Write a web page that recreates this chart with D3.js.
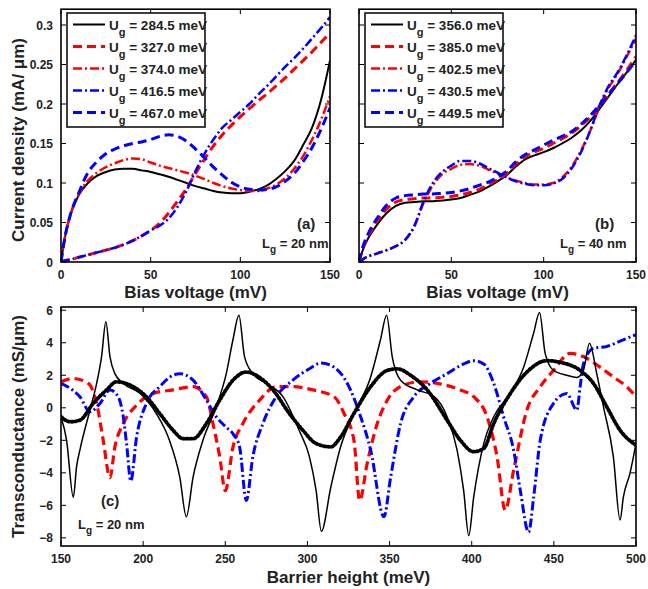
<!DOCTYPE html>
<html>
<head>
<meta charset="utf-8">
<script src="https://cdn.jsdelivr.net/npm/d3@7"></script>
<style>
body { margin: 0; background: #fff; }
text { font-family: "Liberation Sans", Arial, sans-serif; font-weight: bold; fill: #222; }
</style>
</head>
<body>
<div id="content"></div>
<script>
// bias voltage grid (mV) used by panels (a) and (b)
var biasV = [0,2.5,5,10,15,20,25,30,35,40,45,50,55,60,65,70,75,80,85,90,95,100,105,110,115,120,125,130,135,140,145,150]

// panel (a), Lg = 20 nm, current density (mA/um)
var a_labels = ['284.5', '327.0', '374.0', '416.5', '467.0']
var a_2845 = [0,0.035,0.058,0.085,0.1,0.109,0.114,0.117,0.118,0.118,0.116,0.114,0.111,0.108,0.104,0.1,0.096,0.093,0.09,0.088,0.087,0.087,0.089,0.092,0.097,0.105,0.115,0.128,0.148,0.17,0.205,0.255]
var a_3270 = [0,0.002,0.003,0.006,0.009,0.012,0.015,0.018,0.022,0.027,0.033,0.04,0.049,0.062,0.077,0.093,0.112,0.13,0.147,0.161,0.173,0.184,0.194,0.204,0.213,0.223,0.233,0.244,0.255,0.266,0.278,0.29]
var a_3740 = [0,0.035,0.058,0.086,0.103,0.113,0.12,0.125,0.129,0.131,0.13,0.126,0.122,0.119,0.116,0.113,0.109,0.105,0.1,0.096,0.093,0.091,0.09,0.09,0.093,0.098,0.106,0.118,0.134,0.155,0.18,0.21]
var a_4165 = [0,0.002,0.003,0.006,0.009,0.012,0.015,0.018,0.022,0.027,0.033,0.04,0.046,0.055,0.07,0.09,0.115,0.137,0.155,0.17,0.18,0.19,0.2,0.212,0.223,0.235,0.247,0.258,0.27,0.283,0.296,0.31]
var a_4670 = [0,0.035,0.058,0.088,0.113,0.127,0.137,0.143,0.147,0.15,0.152,0.155,0.159,0.161,0.159,0.153,0.143,0.132,0.12,0.11,0.101,0.095,0.092,0.091,0.092,0.095,0.102,0.112,0.127,0.145,0.168,0.195]

// panel (b), Lg = 40 nm
var b_labels = ['356.0', '385.0', '402.5', '430.5', '449.5']
var b_3560 = [0,0.018,0.03,0.048,0.062,0.071,0.075,0.076,0.077,0.077,0.078,0.079,0.081,0.085,0.089,0.095,0.102,0.11,0.121,0.13,0.135,0.139,0.144,0.15,0.157,0.166,0.178,0.193,0.209,0.225,0.24,0.256]
var b_3850 = [0,0.02,0.033,0.052,0.067,0.076,0.079,0.08,0.081,0.081,0.082,0.083,0.085,0.088,0.092,0.098,0.104,0.112,0.124,0.133,0.139,0.144,0.15,0.156,0.163,0.172,0.183,0.196,0.212,0.227,0.243,0.26]
var b_4025 = [0,0.004,0.007,0.011,0.015,0.02,0.028,0.045,0.075,0.097,0.111,0.118,0.123,0.124,0.122,0.117,0.112,0.107,0.103,0.1,0.098,0.098,0.1,0.107,0.12,0.14,0.165,0.195,0.22,0.238,0.26,0.283]
var b_4305 = [0,0.004,0.007,0.011,0.015,0.02,0.028,0.046,0.077,0.1,0.114,0.122,0.128,0.128,0.125,0.119,0.113,0.107,0.102,0.099,0.097,0.097,0.099,0.105,0.118,0.138,0.165,0.197,0.222,0.24,0.262,0.287]
var b_4495 = [0,0.022,0.036,0.056,0.072,0.081,0.084,0.085,0.086,0.086,0.087,0.088,0.09,0.093,0.097,0.101,0.107,0.115,0.127,0.136,0.142,0.148,0.154,0.159,0.165,0.174,0.185,0.198,0.212,0.226,0.24,0.255]

// panel (c), transconductance (mS/um) vs barrier height (meV)
var c_theoryX = [150,153.4,157.5,159.5,161.5,167.6,171.7,174.7,177.3,179.8,182.8,187.9,198,208,216,222.3,226.3,230.4,236.4,244.5,250.6,254.7,258.3,261.7,266.8,274.9,285,295,301.2,305.3,308.5,314.2,320.2,328.3,338.5,344.5,348.2,351.6,356.7,366.8,377,385,391.1,395.1,398.2,401.2,407.3,413.4,423.5,431.6,437.7,441.3,444.7,449.8,457.9,464,468,471.7,476.1,480.2,486.2,490.3,492.3,496.4,500]
var c_theoryY = [-0.55,-2,-5.5,-3.6,-2.6,-0.15,1.5,3.15,5.3,3.15,2.1,1.5,0.9,-0.35,-2,-4.26,-6.7,-4.26,-2,0.06,2.1,4.2,5.7,3.15,2.1,1.5,0.7,-1.4,-3,-5.1,-7.6,-4.9,-2.4,-0.35,1.9,4.2,5.7,3.15,1.7,1.1,0.7,-0.55,-2.6,-5.1,-7.86,-5.5,-2.2,-0.55,0.9,2.5,4.6,5.86,3.35,2.3,2,1.87,2.3,3.97,2.1,0.06,-3,-6.9,-5.5,-4,-2.2]
var c_measX = [150,155.5,161.5,169.6,177.7,183.8,193.9,202,210.1,218.2,224.3,230.4,238.5,246.6,254.7,262.8,268.8,279,289,297.2,305.3,314.2,320.2,328.3,338.5,348.6,354.7,362.8,372.9,385,393.1,401.2,407.3,413.4,423.5,433.6,445.7,453.8,466,474.1,482.2,490.3,500]
var c_measY = [-0.55,-0.86,-0.76,0.27,1.1,1.6,1.3,0.68,-0.35,-1.38,-1.9,-1.9,-0.97,0.47,1.7,2.2,2.0,1.1,-0.35,-1.38,-2.2,-2.4,-1.8,-0.35,1.3,2.3,2.4,2.0,1.1,-0.76,-2,-2.7,-2.5,-0.97,0.88,2.2,2.9,2.8,2.3,1.5,0.06,-1.38,-2.3]
var c_redX = [150,157.5,166.6,171.7,175.7,179.8,182.8,187.9,196,206.1,218.2,230.4,238.5,242.5,246.6,250,254.7,260.7,270.9,281,291.1,303.2,316.2,322.3,328.3,331.8,336.4,342.5,348.6,358.7,368.8,379,393.1,401.2,409.3,415.4,420.4,425.5,433.6,441.7,449.8,459.9,468,478.1,486.2,494.3,500]
var c_redY = [1.6,1.8,1.5,0.27,-2,-4.3,-2.4,-0.97,0.16,0.88,1.1,1.3,0.68,-0.97,-3,-5.1,-2.4,-0.97,0.47,1.3,1.3,1.1,0.68,-0.35,-2.0,-5.7,-3.4,-0.97,0.47,1.4,1.6,1.5,1.1,0.68,-0.55,-3,-6.3,-3.85,-0.14,1.3,2.3,3.35,3.15,2.5,1.9,1.3,0.68]
var c_blueX = [150,155.5,161.5,167.6,173.7,179.8,184.8,187.9,189.9,192.5,196,202,210.1,218.2,222.3,230.4,238.5,244.5,250.6,254.7,258.7,262.8,266.8,272.9,281,291.1,301.2,308.3,316.2,324.3,332.4,338.5,346.6,350.6,356.7,364.8,374.9,385,395.1,401.2,407.3,413.4,419.4,425.5,429.6,434.6,437.7,441.7,449.8,457.9,464,466,468,474.1,482.2,490.3,500]
var c_blueY = [1.5,1.2,0.68,-0.25,0.27,1.1,0.68,-0.55,-2.2,-4.5,-1.8,0.27,1.3,2.0,2.1,1.7,0.47,-0.55,-1.2,-1.6,-2.4,-5.7,-3.0,-0.97,0.68,1.7,2.4,2.75,2.5,1.5,-0.55,-2.6,-6.7,-4.3,-0.97,0.68,1.5,2.1,2.7,2.9,2.7,1.5,-0.55,-2.6,-5.1,-7.65,-5.5,-2.0,0.27,0.88,-0.14,1.3,2.7,3.66,3.77,4.1,4.5]

var jTicks = [0, 0.05, 0.1, 0.15, 0.2, 0.25, 0.3]
var vTicks = [0, 50, 100, 150]
var gTicks = [-8, -6, -4, -2, 0, 2, 4, 6]
var hTicks = [150, 200, 250, 300, 350, 400, 450, 500]

// line styles: black solid, red dashed, red dash-dot, blue dash-dot, blue dashed
var styles = [
    {color: '#000', dash: null, w: 2},
    {color: '#f00', dash: '9,5', w: 3},
    {color: '#f00', dash: '9,3,2,3', w: 2.5},
    {color: '#00f', dash: '9,3,2,3', w: 2.5},
    {color: '#00f', dash: '9,5', w: 3}
]

var svg = d3.select('#content')
    .append('svg')
    .attr('width', 648)
    .attr('height', 589)

function frame(x, y, xTicks, yTicks, tick) {
    var g = svg.append('g')
    var x0 = x.range()[0], x1 = x.range()[1], y0 = y.range()[0], y1 = y.range()[1]
    // inward ticks on all four sides, matlab style
    xTicks.forEach(function (t) {
        g.append('line').attr('x1', x(t)).attr('x2', x(t)).attr('y1', y0).attr('y2', y0 - tick).attr('stroke', '#000')
        g.append('line').attr('x1', x(t)).attr('x2', x(t)).attr('y1', y1).attr('y2', y1 + tick).attr('stroke', '#000')
    })
    yTicks.forEach(function (t) {
        g.append('line').attr('y1', y(t)).attr('y2', y(t)).attr('x1', x0).attr('x2', x0 + tick).attr('stroke', '#000')
        g.append('line').attr('y1', y(t)).attr('y2', y(t)).attr('x1', x1).attr('x2', x1 - tick).attr('stroke', '#000')
    })
    g.append('rect')
        .attr('x', x0).attr('y', y1)
        .attr('width', x1 - x0).attr('height', y0 - y1)
        .attr('fill', 'none').attr('stroke', '#000').attr('stroke-width', 1.6)
}

function drawLines(x, y, xs, series, clipId) {
    var line = d3.line()
        .x(function (d, i) { return x(xs[i]) })
        .y(function (d) { return y(d) })
        .curve(d3.curveMonotoneX)
    series.forEach(function (s, i) {
        svg.append('path')
            .attr('d', line(s))
            .attr('fill', 'none')
            .attr('stroke', styles[i].color)
            .attr('stroke-width', styles[i].w)
            .attr('stroke-dasharray', styles[i].dash)
            .attr('clip-path', 'url(#' + clipId + ')')
    })
}

function legend(x0, labels) {
    var g = svg.append('g')
    g.append('rect').attr('x', x0).attr('y', 13).attr('width', 138).attr('height', 114)
        .attr('fill', '#fff').attr('stroke', '#000').attr('stroke-width', 1.5)
    labels.forEach(function (lab, i) {
        var yy = 24.5 + i * 22
        g.append('line').attr('x1', x0 + 6).attr('x2', x0 + 38).attr('y1', yy).attr('y2', yy)
            .attr('stroke', styles[i].color).attr('stroke-width', styles[i].w)
            .attr('stroke-dasharray', styles[i].dash)
        var t = g.append('text').attr('x', x0 + 42).attr('y', yy + 5).style('font-size', '13.5px')
        t.append('tspan').text('U')
        t.append('tspan').attr('dy', 6).style('font-size', '11px').text('g')
        t.append('tspan').attr('dy', -6).text(' = ' + lab + ' meV')
    })
}

function lgText(x, y, nm) {
    var t = svg.append('text').attr('x', x).attr('y', y).style('font-size', '13px')
    t.append('tspan').text('L')
    t.append('tspan').attr('dy', 5).style('font-size', '10px').text('g')
    t.append('tspan').attr('dy', -5).text(' = ' + nm + ' nm')
}

var clips = svg.append('defs')
function clip(id, x, y) {
    clips.append('clipPath').attr('id', id).append('rect')
        .attr('x', x.range()[0]).attr('y', y.range()[1])
        .attr('width', x.range()[1] - x.range()[0]).attr('height', y.range()[0] - y.range()[1])
}

// ---- panel (a)
var xa = d3.scaleLinear().domain([0, 150]).range([61, 330])
var ya = d3.scaleLinear().domain([0, 0.32]).range([262, 9.2])
clip('ca', xa, ya)
drawLines(xa, ya, biasV, [a_2845, a_3270, a_3740, a_4165, a_4670], 'ca')
frame(xa, ya, vTicks, jTicks, 5)
legend(67, a_labels)
jTicks.forEach(function (t) {
    svg.append('text').attr('x', 53).attr('y', ya(t) + 4.5).attr('text-anchor', 'end')
        .style('font-size', '12px').text(String(t))
})
vTicks.forEach(function (t) {
    svg.append('text').attr('x', xa(t)).attr('y', 279).attr('text-anchor', 'middle')
        .style('font-size', '12px').text(t)
})
svg.append('text').attr('x', xa(75)).attr('y', 298).attr('text-anchor', 'middle')
    .style('font-size', '17px').text('Bias voltage (mV)')
svg.append('text').attr('transform', 'translate(24,140) rotate(-90)')
    .attr('text-anchor', 'middle').style('font-size', '17px').text('Current density (mA/ \u03bcm)')
svg.append('text').attr('x', 297).attr('y', 229).style('font-size', '15px').text('(a)')
lgText(262, 248, '20')

// ---- panel (b)
var xb = d3.scaleLinear().domain([0, 150]).range([359, 636])
var yb = d3.scaleLinear().domain([0, 0.32]).range([262, 9.2])
clip('cb', xb, yb)
drawLines(xb, yb, biasV, [b_3560, b_3850, b_4025, b_4305, b_4495], 'cb')
frame(xb, yb, vTicks, jTicks, 5)
legend(365, b_labels)
vTicks.forEach(function (t) {
    svg.append('text').attr('x', xb(t)).attr('y', 279).attr('text-anchor', 'middle')
        .style('font-size', '12px').text(t)
})
svg.append('text').attr('x', xb(75)).attr('y', 298).attr('text-anchor', 'middle')
    .style('font-size', '17px').text('Bias voltage (mV)')
svg.append('text').attr('x', 595).attr('y', 229).style('font-size', '15px').text('(b)')
lgText(560, 248, '40')

// ---- panel (c)
var xc = d3.scaleLinear().domain([150, 500]).range([61, 636])
var yc = d3.scaleLinear().domain([-8.5, 6.2]).range([546, 307])
clip('cc', xc, yc)
var lineC = d3.line()
    .x(function (d) { return xc(d[0]) })
    .y(function (d) { return yc(d[1]) })
    .curve(d3.curveMonotoneX)
var cSeries = [
    {x: c_redX, y: c_redY, color: '#f00', dash: '9,5', w: 3.2, cap: 'butt'},
    {x: c_blueX, y: c_blueY, color: '#00f', dash: '9,3,2,3', w: 3, cap: 'butt'},
    {x: c_measX, y: c_measY, color: '#000', dash: '1.5,2.5', w: 3.8, cap: 'round'},
    {x: c_theoryX, y: c_theoryY, color: '#000', dash: null, w: 1.5, cap: 'butt'}
]
cSeries.forEach(function (s) {
    svg.append('path')
        .attr('d', lineC(d3.zip(s.x, s.y)))
        .attr('fill', 'none')
        .attr('stroke', s.color)
        .attr('stroke-width', s.w)
        .attr('stroke-linecap', s.cap)
        .attr('stroke-dasharray', s.dash)
        .attr('clip-path', 'url(#cc)')
})
frame(xc, yc, hTicks, gTicks, 5)
gTicks.forEach(function (t) {
    svg.append('text').attr('x', 53).attr('y', yc(t) + 4.5).attr('text-anchor', 'end')
        .style('font-size', '12px').text(d3.format('')(t))
})
hTicks.forEach(function (t) {
    svg.append('text').attr('x', xc(t)).attr('y', 563).attr('text-anchor', 'middle')
        .style('font-size', '12px').text(t)
})
svg.append('text').attr('x', xc(325)).attr('y', 583).attr('text-anchor', 'middle')
    .style('font-size', '17px').text('Barrier height (meV)')
svg.append('text').attr('transform', 'translate(24,' + yc(-1.15) + ') rotate(-90)')
    .attr('text-anchor', 'middle').style('font-size', '17px').text('Transconductance (mS/\u03bcm)')
svg.append('text').attr('x', 101).attr('y', 506).style('font-size', '15px').text('(c)')
lgText(78, 529, '20')
</script>
</body>
</html>
